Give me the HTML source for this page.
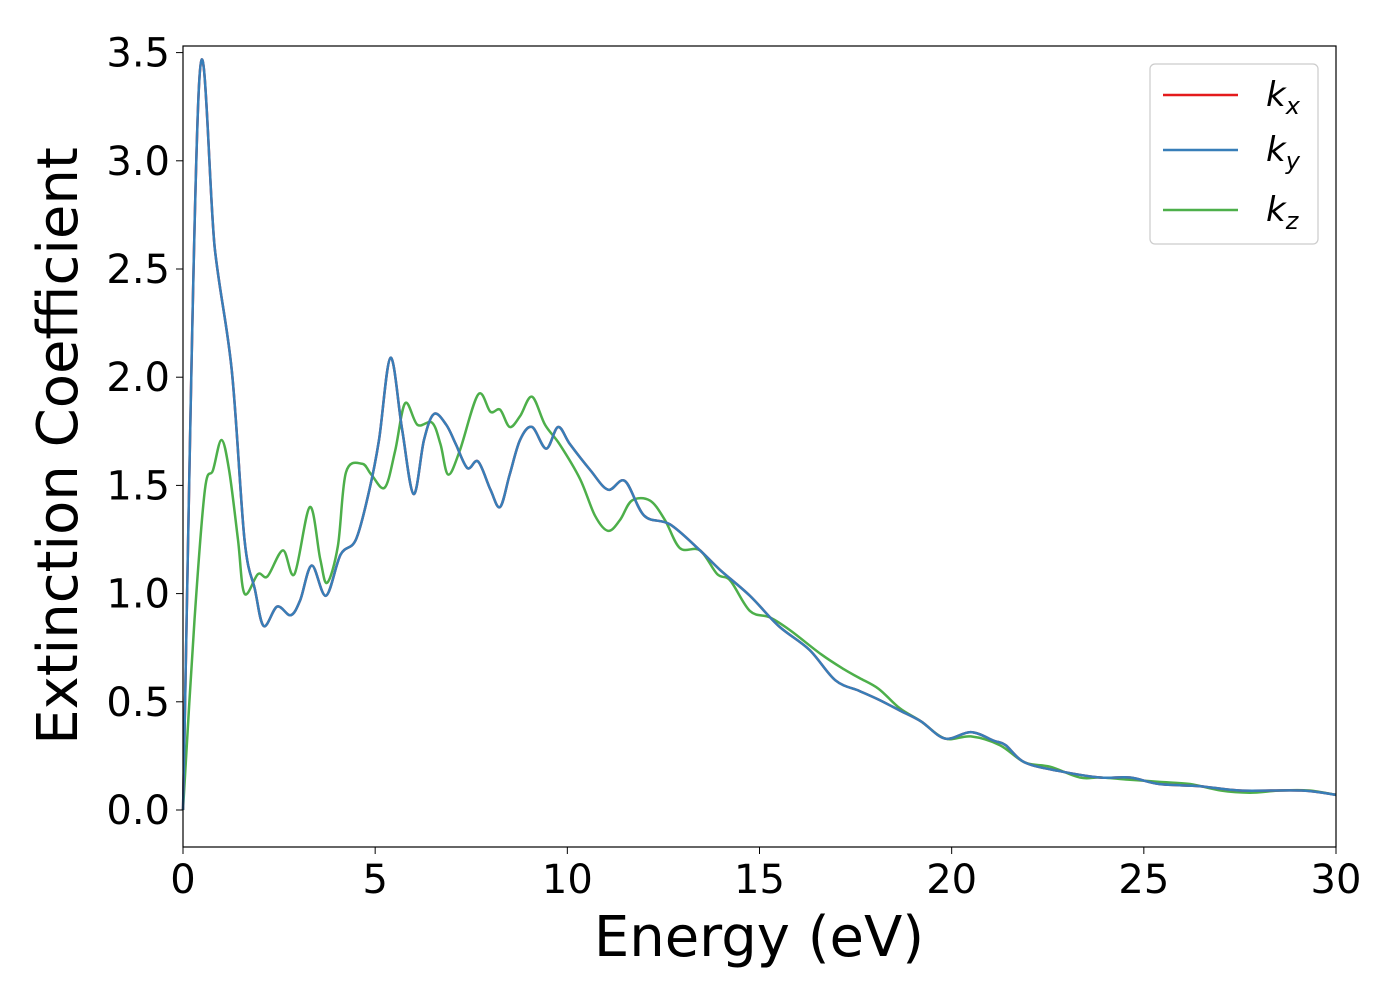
<!DOCTYPE html>
<html><head><meta charset="utf-8"><style>
html,body{margin:0;padding:0;background:#fff;}
svg text{font-family:"DejaVu Sans","Liberation Sans",sans-serif;}
</style></head><body>
<svg id="chart" width="1400" height="1000" xmlns="http://www.w3.org/2000/svg">
<rect width="1400" height="1000" fill="#fff"/>
<g id="plot"></g>
<rect x="183" y="46" width="1153" height="801" fill="none" stroke="#000" stroke-width="1.2"/>
<g id="xticks"></g>
<g id="yticks"></g>
<text x="759" y="956" font-size="56" text-anchor="middle">Energy (eV)</text>
<text transform="translate(77,446) rotate(-90)" font-size="56" text-anchor="middle">Extinction Coefficient</text>
<g>
<rect x="1150" y="64" width="168" height="180" rx="5" fill="#fff" stroke="#ccc" stroke-width="1.2"/>
<g><line x1="1163" y1="95" x2="1238" y2="95" stroke="#e41a1c" stroke-width="2.5"/><text x="1266" y="106" font-size="34" font-style="italic">k<tspan font-size="24" dy="8">x</tspan></text></g>
<g><line x1="1163" y1="150" x2="1238" y2="150" stroke="#377eb8" stroke-width="2.5"/><text x="1266" y="161" font-size="34" font-style="italic">k<tspan font-size="24" dy="8">y</tspan></text></g>
<g><line x1="1163" y1="210" x2="1238" y2="210" stroke="#4daf4a" stroke-width="2.5"/><text x="1266" y="221" font-size="34" font-style="italic">k<tspan font-size="24" dy="8">z</tspan></text></g>
</g>
</svg>
<script>
const energyXY=[0,0.42,0.83,1.27,1.6,1.87,2.1,2.45,2.8,3.05,3.35,3.72,4.1,4.5,4.85,5.1,5.4,5.7,6.0,6.27,6.53,6.85,7.1,7.4,7.68,8.0,8.25,8.5,8.77,9.08,9.45,9.76,10.07,10.6,11.06,11.5,12.0,12.67,13.45,13.97,14.75,15.5,16.3,16.97,17.6,18.1,18.65,19.2,19.83,20.5,21.1,21.4,21.9,22.8,23.86,24.64,25.4,26.46,27.5,29.1,30];
const kxyValues=[0,3.36,2.59,2.03,1.25,1.02,0.85,0.94,0.90,0.97,1.13,0.99,1.18,1.25,1.48,1.71,2.09,1.76,1.46,1.71,1.83,1.78,1.69,1.58,1.61,1.48,1.40,1.55,1.71,1.77,1.67,1.77,1.69,1.57,1.48,1.52,1.36,1.32,1.20,1.11,0.99,0.85,0.74,0.60,0.55,0.51,0.46,0.41,0.33,0.36,0.32,0.30,0.22,0.18,0.15,0.15,0.12,0.11,0.09,0.09,0.07];
const energyZ=[0,0.3,0.57,0.78,1.0,1.2,1.43,1.6,1.95,2.2,2.6,2.9,3.3,3.57,3.75,4.03,4.24,4.66,4.9,5.25,5.52,5.78,6.1,6.48,6.7,6.9,7.2,7.68,8.0,8.25,8.5,8.77,9.08,9.42,9.8,10.33,10.72,11.06,11.37,11.68,12.15,12.54,12.93,13.45,13.9,14.24,14.75,15.27,15.8,16.6,17.2,17.6,18.1,18.65,19.2,19.83,20.5,21.25,21.9,22.56,23.34,23.86,24.64,25.4,26.2,27.0,27.76,28.54,29.3,30];
const kzValues=[0,0.88,1.48,1.57,1.71,1.57,1.25,1.00,1.09,1.08,1.20,1.09,1.40,1.16,1.05,1.22,1.56,1.60,1.55,1.49,1.66,1.88,1.78,1.79,1.69,1.55,1.66,1.92,1.84,1.85,1.77,1.82,1.91,1.78,1.69,1.53,1.36,1.29,1.34,1.43,1.43,1.34,1.21,1.20,1.09,1.06,0.92,0.89,0.83,0.72,0.65,0.61,0.56,0.47,0.41,0.33,0.34,0.30,0.22,0.20,0.15,0.15,0.14,0.13,0.12,0.09,0.08,0.09,0.09,0.07];
const xTickLabels=["0","5","10","15","20","25","30"];
const yTickLabels=["0.0","0.5","1.0","1.5","2.0","2.5","3.0","3.5"];
const NS="http://www.w3.org/2000/svg";
const xs=v=>183+v*(1153/30);
const ys=v=>810-v*216.4;
function path(xa,ya){
  const p=xa.map((x,i)=>[xs(x),ys(ya[i])]);
  let d="M"+p[0][0]+","+p[0][1];
  for(let i=0;i<p.length-1;i++){
    const p0=p[i-1]||p[i],p1=p[i],p2=p[i+1],p3=p[i+2]||p2;
    const c1=[p1[0]+(p2[0]-p0[0])/6,p1[1]+(p2[1]-p0[1])/6];
    const c2=[p2[0]-(p3[0]-p1[0])/6,p2[1]-(p3[1]-p1[1])/6];
    d+=` C${c1[0]},${c1[1]} ${c2[0]},${c2[1]} ${p2[0]},${p2[1]}`;
  }
  return d;
}
const plot=document.getElementById("plot");
[["kz",energyZ,kzValues,"#4daf4a"],["kx",energyXY,kxyValues,"#e41a1c"],["ky",energyXY,kxyValues,"#377eb8"]].forEach(s=>{
  const el=document.createElementNS(NS,"path");
  el.setAttribute("d",path(s[1],s[2]));
  el.setAttribute("fill","none");el.setAttribute("stroke",s[3]);el.setAttribute("stroke-width","2.5");
  
  
  plot.appendChild(el);
});
const xt=document.getElementById("xticks");
xTickLabels.forEach(l=>{
  const x=xs(parseFloat(l));
  const t=document.createElementNS(NS,"line");
  t.setAttribute("x1",x);t.setAttribute("x2",x);t.setAttribute("y1",847);t.setAttribute("y2",854);t.setAttribute("stroke","#000");
  
  
  xt.appendChild(t);
  const tx=document.createElementNS(NS,"text");
  tx.setAttribute("x",x);tx.setAttribute("y",893);tx.setAttribute("font-size","40");tx.setAttribute("text-anchor","middle");
  tx.textContent=l;
  
  
  xt.appendChild(tx);
});
const yt=document.getElementById("yticks");
yTickLabels.forEach(l=>{
  const y=ys(parseFloat(l));
  const t=document.createElementNS(NS,"line");
  t.setAttribute("x1",176);t.setAttribute("x2",183);t.setAttribute("y1",y);t.setAttribute("y2",y);t.setAttribute("stroke","#000");
  
  
  yt.appendChild(t);
  const tx=document.createElementNS(NS,"text");
  tx.setAttribute("x",170);tx.setAttribute("y",y+14);tx.setAttribute("font-size","40");tx.setAttribute("text-anchor","end");
  tx.textContent=l;
  
  
  yt.appendChild(tx);
});
</script>
</body></html>
